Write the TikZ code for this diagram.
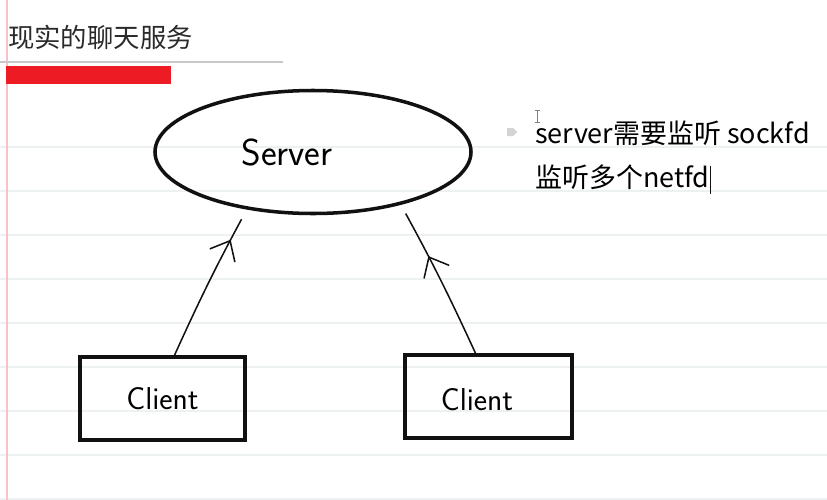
\documentclass[tikz,border=0pt]{standalone}
\usepackage{fontspec}
\newfontfamily\cjk{Noto Sans CJK SC}
\usetikzlibrary{shapes.geometric, arrows.meta, decorations.markings, calc}
\definecolor{ink}{HTML}{111111}
\definecolor{title-grey}{HTML}{2A2A2A}
\definecolor{rule-line}{HTML}{EDF1F2}
\definecolor{margin-pink}{HTML}{F5C3CA}
\definecolor{bar-red}{HTML}{ED1C24}
\definecolor{soft-grey}{HTML}{C8C8C8}

\begin{document}
\begin{tikzpicture}[x=0.03cm, y=-0.03cm,
      every node/.style={inner sep=0pt},
      rulebar/.style={rule-line, line width=1.2pt},
      clientbox/.style={draw=ink, line width=3pt,
          minimum width=4.95cm, minimum height=2.49cm,
          font=\sffamily\fontsize{27}{27}\selectfont},
      serverring/.style={ellipse, draw=ink, line width=3pt,
          minimum width=9.48cm, minimum height=3.69cm},
      penlink/.style={ink, line width=1.3pt,
          decoration={markings, mark=at position #1 with
              {\arrow{Straight Barb[length=0.5cm, width=0.85cm]}}},
          postaction={decorate}}]
    % paper
    \fill[white] (0,0) rectangle (827,500);
    \useasboundingbox (0,0) rectangle (827,500);
    \foreach \y in {147,191,...,499}
      \draw[rulebar] (0,\y) -- (827,\y);
    \draw[margin-pink, line width=1.3pt] (7,0) -- (7,500);

    % heading
    \node[anchor=base west, text=title-grey, font=\cjk\fontsize{22.5}{22.5}\selectfont]
          (title) at (8,47) {现实的聊天服务};
    \draw[soft-grey, line width=1.5pt] (0,62) -- (283,62);
    \fill[bar-red] (6,66) rectangle (171,84);

    % notes
    \fill[soft-grey!80] (507,128) -- (513,128) -- (517,132) -- (513,136) -- (507,136) -- cycle;
    \draw[gray, line width=0.6pt] (537,110) -- (537,122) (534.5,110) -- (539.5,110) (534.5,122) -- (539.5,122);
    \node[anchor=base west, font=\cjk\fontsize{23}{23}\selectfont]
          (note1) at (535,143) {server需要监听 sockfd};
    \node[anchor=base west, font=\cjk\fontsize{23}{23}\selectfont]
          (note2) at (535,187) {监听多个netfd};
    \draw[ink, line width=0.6pt] ([xshift=1pt]note2.east |- 0,166) -- ([xshift=1pt]note2.east |- 0,194);

    % server and clients
    \node[serverring] (server) at (313,152) {};
    \node[font=\sffamily\fontsize{32}{32}\selectfont] (srvname) at (287,152) {Server};
    \node[clientbox] (c1) at (162.5,398.5) {Client};
    \node[clientbox, minimum width=5.01cm] (c2) at (488.5,396.5) {};
    \node[font=\sffamily\fontsize{27}{27}\selectfont] (c2name) at (477,400) {Client};

    \draw[penlink=0.79, shorten >=0.33cm] ($(c1.north)+(12,0)$) to[bend left=2] (server.221.3);
    \draw[penlink=0.65, shorten >=0.3cm] ($(c2.north)+(-13,0)$) to[bend right=2] (server.329.9);
  \end{tikzpicture}
\end{document}
